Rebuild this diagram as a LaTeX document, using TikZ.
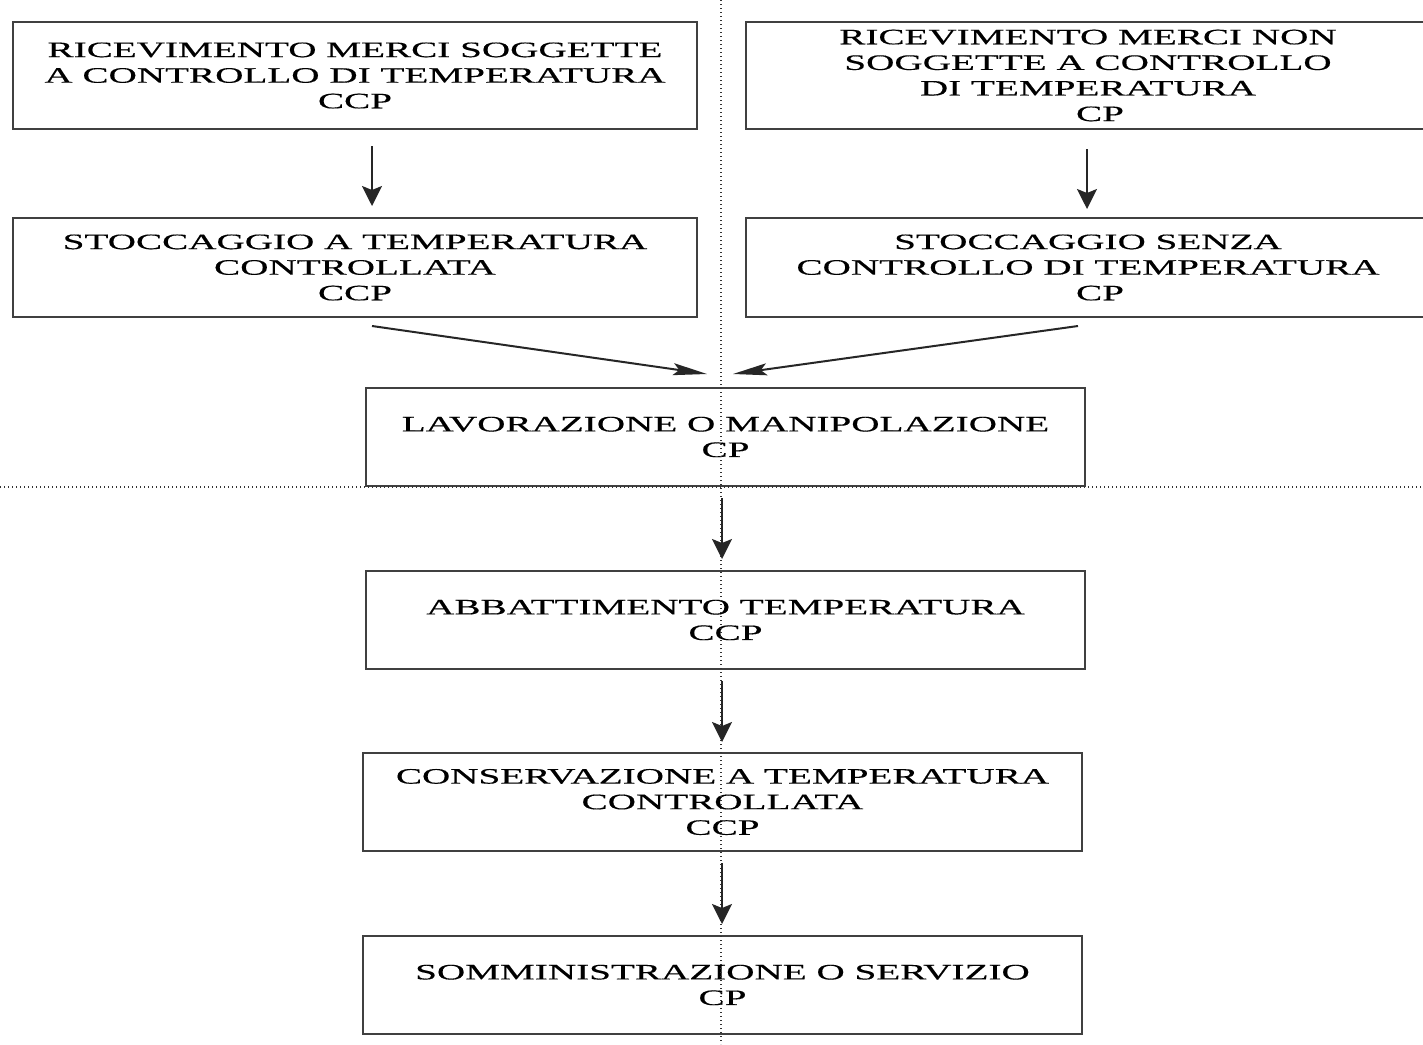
\documentclass[tikz,border=0pt]{standalone}
\usepackage{fontspec}
\setmainfont{Liberation Serif}[FakeStretch=1.78,FakeBold=0.4]
\usetikzlibrary{calc,arrows.meta}

\tikzset{
		stepbox/.style  = {shape=rectangle, draw=black!75, line width=1pt,
				align=center, inner sep=0pt,
				font=\fontsize{11}{12.8}\selectfont},
		wide/.style     = {stepbox, minimum width=342pt, minimum height=53.5pt},
		low/.style      = {stepbox, minimum width=342pt, minimum height=49.5pt},
		main/.style     = {stepbox, minimum width=359.5pt, minimum height=49pt},
		flow/.style     = {draw=black!85, line width=1pt,
				-{Stealth[length=10pt,width=10pt,inset=2pt]}},
		slant/.style    = {draw=black!85, line width=1pt,
				-{Stealth[length=17pt,width=6pt,inset=3pt]}},
		guide/.style    = {draw=black!80, line width=0.6pt,
				dash pattern=on 0.6pt off 1.4pt}
	}

\begin{document}
\begin{tikzpicture}[x=0.5pt,y=-0.5pt]
				\useasboundingbox (0,0) rectangle (1423,1044);
				\clip (0,0) rectangle (1423,1044);
				% upper part: two separate entries
				\node [wide] (recA) at (355,75.5)
					{RICEVIMENTO MERCI SOGGETTE\\A CONTROLLO DI TEMPERATURA\\CCP};
				\node [wide] (recB) at (1088,75.5)
					{RICEVIMENTO MERCI NON\\SOGGETTE A CONTROLLO\\DI TEMPERATURA\\\hspace*{12pt}CP};
				\node [low] (stoA) at (355,267.5)
					{STOCCAGGIO A TEMPERATURA\\CONTROLLATA\\CCP};
				\node [low] (stoB) at (1088,267.5)
					{STOCCAGGIO SENZA\\CONTROLLO DI TEMPERATURA\\\hspace*{12pt}CP};
				% common chain
				\node [main] (lav) at (725.5,437)
					{LAVORAZIONE O MANIPOLAZIONE\\CP};
				\node [main] (abb) at (725.5,620)
					{ABBATTIMENTO TEMPERATURA\\CCP};
				\node [main] (con) at (722.5,802)
					{CONSERVAZIONE A TEMPERATURA\\CONTROLLATA\\CCP};
				\node [main] (som) at (722.5,985)
					{SOMMINISTRAZIONE O SERVIZIO\\CP};
				% guide lines
				\coordinate (vtop) at (721,0);
				\coordinate (vbot) at (721,1044);
				\coordinate (hleft) at (0,487);
				\coordinate (hright) at (1423,487);
				\draw [guide] (vtop) -- (vbot);
				\draw [guide] (hleft) -- (hright);
				% arrows
				\draw [flow] ($(recA.south)+(17,16)$) -- ($(stoA.north)+(17,-11)$);
				\draw [flow] ($(recB.south)+(-1,19)$) -- ($(stoB.north)+(-1,-8)$);
				\draw [slant] ($(stoA.south)+(17,8)$) -- ($(lav.north)+(-18.5,-13)$);
				\draw [slant] ($(stoB.south)+(-10,8)$) -- ($(lav.north)+(7.5,-13)$);
				\draw [flow] ($(lav.south)+(-3.5,11)$) -- ($(abb.north)+(-3.5,-11)$);
				\draw [flow] ($(abb.south)+(-3.5,11)$) -- ($(con.north)+(-0.5,-10)$);
				\draw [flow] ($(con.south)+(-0.5,11)$) -- ($(som.north)+(-0.5,-11)$);
			\end{tikzpicture}
\end{document}
